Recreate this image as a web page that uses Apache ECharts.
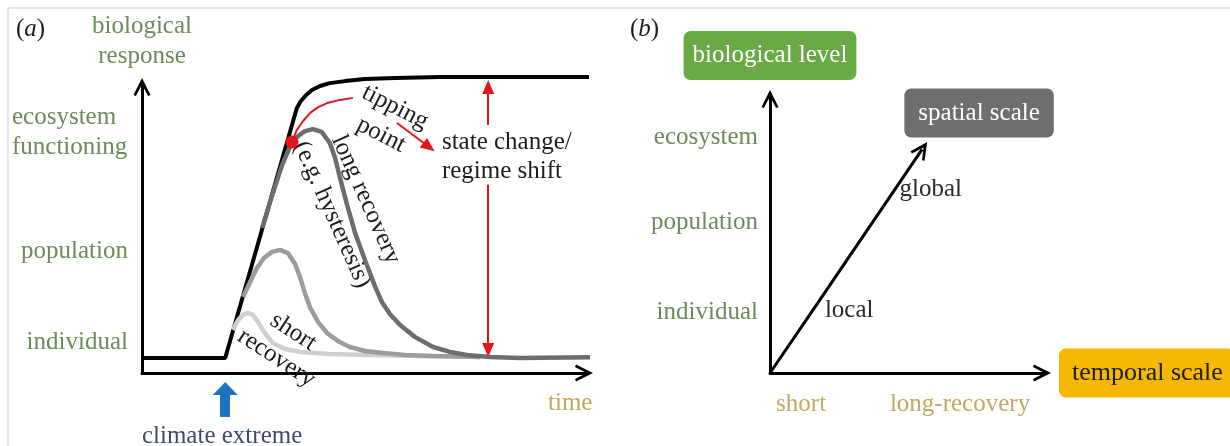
<!DOCTYPE html>
<html>
<head>
<meta charset="utf-8">
<script src="https://cdn.jsdelivr.net/npm/echarts@6/dist/echarts.min.js"></script>
<style>
  html, body { margin: 0; padding: 0; background: #fff; }
  #chart { width: 1230px; height: 446px; }
</style>
</head>
<body>
<div id="chart"></div>
<script>
// ---- panel (a): biological response over time ----
var baseline = [[0, 0.52], [1.87, 0.52], [3.48, 9.17], [3.57, 9.41], [3.69, 9.62], [3.82, 9.79], [4.00, 9.93],
  [4.22, 10.03], [4.56, 10.10], [5.01, 10.17], [5.69, 10.21], [6.70, 10.24], [10.11, 10.24]];
var longRecovery = [[2.70, 5.02], [2.92, 6.12], [3.15, 7.20], [3.37, 7.99], [3.51, 8.20], [3.66, 8.37], [3.84, 8.44],
  [4.04, 8.34], [4.22, 7.96], [4.34, 7.44], [4.45, 6.75], [4.61, 5.81], [4.79, 4.84], [5.01, 3.91], [5.24, 2.98],
  [5.39, 2.46], [5.57, 2.04], [5.80, 1.66], [6.13, 1.25], [6.54, 0.90], [6.92, 0.73], [7.30, 0.62], [7.82, 0.55],
  [8.49, 0.52], [10.11, 0.55]];
var midRecovery = [[2.27, 2.63], [2.43, 3.15], [2.58, 3.63], [2.74, 3.98], [2.92, 4.19], [3.10, 4.26], [3.28, 4.15],
  [3.44, 3.77], [3.55, 3.32], [3.66, 2.77], [3.78, 2.25], [3.96, 1.76], [4.16, 1.38], [4.40, 1.11], [4.67, 0.90],
  [5.01, 0.76], [5.42, 0.69], [5.91, 0.62], [6.54, 0.59], [7.60, 0.55]];
var shortRecovery = [[2.04, 1.49], [2.16, 1.83], [2.27, 2.01], [2.38, 2.08], [2.49, 2.01], [2.61, 1.76], [2.74, 1.42],
  [2.94, 1.04], [3.21, 0.83], [3.55, 0.73], [4.22, 0.66], [5.06, 0.62], [6.25, 0.59], [7.60, 0.55]];
var tippingCurve = [[3.37, 7.99], [3.48, 8.41], [3.62, 8.72], [3.78, 9.00], [3.96, 9.20], [4.16, 9.34], [4.45, 9.45], [4.74, 9.52]];
var tippingPoint = [3.37, 7.99];
var eventTime = 1.87;
var shiftTime = 7.78;
var levelsA = ['individual', 'population', 'ecosystem\nfunctioning'];
var levelsAPos = [1.07, 4.19, 8.34];

// ---- panel (b): biological level vs temporal / spatial scale ----
var levelsB = ['individual', 'population', 'ecosystem'];
var levelsBPos = [2.20, 5.45, 8.52];
var timeLabels = ['short', 'long-recovery'];
var timeLabelPos = [1.13, 6.91];
var spatialPath = [[0, 0], [1.56, 2.27], [4.53, 6.61], [5.53, 8.07]];
var spatialLabels = ['', 'local', 'global', 'spatial scale'];

var serif = '"Liberation Serif", "DejaVu Serif", serif';
var green = '#6b8b58';
var olive = '#c4a862';
var red = '#e2151c';
var ink = '#1c1c1c';
// open arrow head, pointing up
var chevron = 'path://M0,17 L8.5,0 L17,17 L14.6,18 L8.5,6.5 L2.4,18 Z';

function arrowLine() {
  return { show: true, onZero: false, lineStyle: { color: '#000', width: 3 },
    symbol: ['none', chevron], symbolSize: [17, 18], symbolOffset: [0, -3] };
}
function pick(names, pos) {
  return function (v, i) {
    var k = pos.indexOf(v);
    if (k < 0) k = i;
    var s = names[k] || '';
    if (s.indexOf('\n') >= 0) {
      return s.split('\n').map(function (t) { return '{l|' + t + '}'; }).join('\n');
    }
    return s;
  };
}
var hidden = { show: false };

var chart = echarts.init(document.getElementById('chart'));
chart.setOption({
  animation: false,
  backgroundColor: '#fff',
  title: [
    { text: '{n|(}{i|a}{n|)}', left: 11, top: 12, textStyle: { rich: {
      n: { fontFamily: serif, fontSize: 25, fontWeight: 'normal', color: ink },
      i: { fontFamily: serif, fontSize: 25, fontWeight: 'normal', fontStyle: 'italic', color: ink } } } },
    { text: '{n|(}{i|b}{n|)}', left: 625, top: 12, textStyle: { rich: {
      n: { fontFamily: serif, fontSize: 25, fontWeight: 'normal', color: ink },
      i: { fontFamily: serif, fontSize: 25, fontWeight: 'normal', fontStyle: 'italic', color: ink } } } }
  ],
  graphic: [{
    type: 'rect', silent: true, z: -1,
    shape: { x: 8, y: 8, width: 1250, height: 470 },
    style: { fill: 'none', stroke: '#e6e6e6', lineWidth: 2 }
  }],
  grid: [
    { left: 142, top: 84, right: 643, bottom: 73, outerBoundsMode: 'none' },
    { left: 770, top: 96, right: 185, bottom: 73, outerBoundsMode: 'none' },
    // overlay on panel (a) reaching below the time axis, for the annotations
    { left: 142, top: 84, right: 643, bottom: 0.75, outerBoundsMode: 'none' }
  ],
  xAxis: [
    {
      gridIndex: 0, type: 'value', min: 0, max: 10,
      axisLine: arrowLine(), axisTick: { show: false }, axisLabel: { show: false }, splitLine: { show: false },
      name: 'time', nameLocation: 'end', nameGap: -39,
      nameTextStyle: { color: olive, fontFamily: serif, fontSize: 25, verticalAlign: 'top', align: 'left', padding: [18, 0, 0, 0] }
    },
    {
      gridIndex: 1, type: 'value', min: 0, max: 10,
      axisLine: arrowLine(), axisTick: { show: false }, splitLine: { show: false },
      axisLabel: { customValues: timeLabelPos, formatter: pick(timeLabels, timeLabelPos), margin: 19, color: olive, fontFamily: serif, fontSize: 25 },
      name: 'temporal scale', nameLocation: 'end', nameGap: 14,
      nameTextStyle: { color: ink, backgroundColor: '#f6b800', borderRadius: 7, padding: [10, 12, 10, 13], fontFamily: serif, fontSize: 26, lineHeight: 29, align: 'left', verticalAlign: 'middle' }
    },
    { gridIndex: 2, type: 'value', min: 0, max: 10, show: false, splitLine: hidden }
  ],
  yAxis: [
    {
      gridIndex: 0, type: 'value', min: 0, max: 10,
      axisLine: arrowLine(), axisTick: { show: false }, splitLine: { show: false },
      axisLabel: {
        customValues: levelsAPos, formatter: pick(levelsA, levelsAPos), margin: 14,
        color: green, fontFamily: serif, fontSize: 25, lineHeight: 30,
        rich: { l: { width: 116, align: 'left', color: green, fontFamily: serif, fontSize: 25, lineHeight: 30 } }
      },
      name: 'biological\nresponse', nameLocation: 'end', nameGap: 13,
      nameTextStyle: { color: green, fontFamily: serif, fontSize: 25, lineHeight: 30, align: 'center', verticalAlign: 'bottom' }
    },
    {
      gridIndex: 1, type: 'value', min: 0, max: 10,
      axisLine: arrowLine(), axisTick: { show: false }, splitLine: { show: false },
      axisLabel: { customValues: levelsBPos, formatter: pick(levelsB, levelsBPos), margin: 12, color: green, fontFamily: serif, fontSize: 25 },
      name: 'biological level', nameLocation: 'end', nameGap: 16,
      nameTextStyle: { color: '#fff', backgroundColor: '#69aa44', borderRadius: 7, padding: [10, 9, 10, 9], fontFamily: serif, fontSize: 25, lineHeight: 29, align: 'center', verticalAlign: 'bottom' }
    },
    { gridIndex: 2, type: 'value', min: -2.5, max: 10, show: false, splitLine: hidden }
  ],
  series: [
    { name: 'baseline', type: 'line', xAxisIndex: 0, yAxisIndex: 0, data: baseline, symbol: 'none', clip: false, silent: true,
      lineStyle: { color: '#000', width: 4 }, z: 2 },
    { name: 'short', type: 'line', xAxisIndex: 0, yAxisIndex: 0, data: shortRecovery, symbol: 'none', clip: false, silent: true,
      lineStyle: { color: '#cfcfcf', width: 4.5 }, z: 3 },
    { name: 'mid', type: 'line', xAxisIndex: 0, yAxisIndex: 0, data: midRecovery, symbol: 'none', clip: false, silent: true,
      lineStyle: { color: '#9c9c9c', width: 4.5 }, z: 4 },
    { name: 'long', type: 'line', xAxisIndex: 0, yAxisIndex: 0, data: longRecovery, symbol: 'none', clip: false, silent: true,
      lineStyle: { color: '#6d6d6d', width: 4.5 }, z: 5 },
    { name: 'tipping', type: 'line', xAxisIndex: 0, yAxisIndex: 0, data: tippingCurve, symbol: 'none', clip: false, silent: true,
      lineStyle: { color: red, width: 2 }, z: 6 },
    {
      name: 'notesA', type: 'scatter', xAxisIndex: 2, yAxisIndex: 2, data: [tippingPoint], clip: false, silent: true,
      symbolSize: 13, itemStyle: { color: red, opacity: 1 }, z: 7,
      markLine: {
        silent: true, animation: false,
        symbol: ['none', 'triangle'], symbolSize: [12, 14],
        label: { show: false },
        lineStyle: { color: red, width: 2, type: 'solid' },
        data: [
          [{ coord: [5.73, 8.65] }, { coord: [6.45, 7.82] }],
          [{ coord: [shiftTime, 9.90], symbol: 'triangle' }, { coord: [shiftTime, 8.58], symbol: 'none' }],
          [{ coord: [shiftTime, 6.51], symbol: 'none' }, { coord: [shiftTime, 0.80] }],
          [{ coord: [eventTime, -1.52], symbol: 'none', lineStyle: { color: '#1b73c2', width: 10 } },
           { coord: [eventTime, -0.54], symbol: 'triangle', symbolSize: [25, 13] }]
        ]
      },
      markPoint: {
        silent: true, animation: false, symbol: 'circle', symbolSize: 0,
        label: { show: true, position: 'inside', formatter: '{b}', color: ink, fontFamily: serif, fontSize: 25, lineHeight: 31 },
        data: [
          { name: 'tipping\npoint', coord: [5.53, 8.72], label: { rotate: -27 } },
          { name: 'long recovery\n(e.g. hysteresis)', coord: [4.65, 5.74], label: { rotate: -66, lineHeight: 37 } },
          { name: 'short\nrecovery', coord: [3.21, 0.97], label: { rotate: -33 } },
          { name: 'state change/\nregime shift', coord: [6.74, 7.46], label: { align: 'left', lineHeight: 29 } },
          { name: 'climate extreme', coord: [1.80, -2.21], label: { color: '#3d4c6c', fontSize: 25 } }
        ]
      }
    },
    {
      name: 'spatial', type: 'line', xAxisIndex: 1, yAxisIndex: 1, silent: true, clip: false,
      data: spatialPath.map(function (p, i) {
        return i === spatialPath.length - 1
          ? { value: p, symbol: chevron, symbolSize: [17, 18], symbolRotate: -34.4 }
          : { value: p, symbol: 'none' };
      }),
      lineStyle: { color: '#000', width: 3 }, itemStyle: { color: '#000' }
    },
    {
      name: 'spatialNotes', type: 'scatter', xAxisIndex: 1, yAxisIndex: 1, silent: true, clip: false,
      symbolSize: 0, z: 8, itemStyle: { opacity: 1 },
      data: spatialPath.slice(1).map(function (p, i) {
        var name = spatialLabels[i + 1];
        if (name === 'spatial scale') {
          return { value: p, name: name, label: { position: 'top', distance: 12, offset: [57, 0], color: '#fff',
            backgroundColor: '#6e6e6e', borderRadius: 7, padding: [10, 14, 10, 14], fontSize: 25, lineHeight: 29 } };
        }
        return { value: p, name: name, label: { position: 'right', distance: name === 'local' ? 12 : 5 } };
      }),
      label: { show: true, formatter: '{b}', color: '#2a2a2a', fontFamily: serif, fontSize: 25 }
    }
  ]
});
</script>
</body>
</html>
